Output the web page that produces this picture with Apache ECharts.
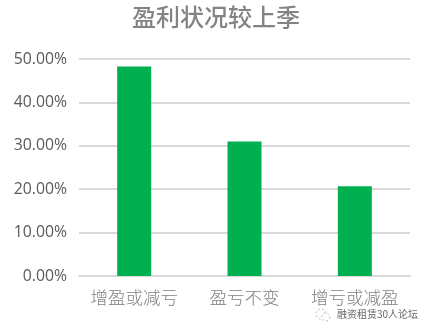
<!DOCTYPE html>
<html><head><meta charset="utf-8">
<style>html,body{margin:0;padding:0;background:#fff}#c{width:432px;height:333px}</style>
<script src="https://cdn.jsdelivr.net/npm/echarts@6/dist/echarts.min.js"></script>
</head><body><div id="c"></div>
<script>
const chartTitle = '盈利状况较上季';
const categories = ['增盈或减亏', '盈亏不变', '增亏或减盈'];
const values = [48.3, 31.0, 20.7];
const watermark = '融资租赁30人论坛';
const chart = echarts.init(document.getElementById('c'), null, {renderer:'canvas'});
chart.setOption({
  animation:false,
  backgroundColor:'#fff',
  title:{text:chartTitle,left:132,top:5,padding:0,
    textStyle:{fontFamily:'"Noto Sans CJK SC",sans-serif',fontSize:24,fontWeight:500,color:'#838383'}},
  grid:{left:79,right:22,top:59,bottom:57},
  xAxis:{type:'category',data:categories,
    axisLine:{lineStyle:{color:'#d9d9d9',width:2}},axisTick:{show:false},
    axisLabel:{interval:0,margin:13,fontFamily:'"Noto Sans CJK SC",sans-serif',fontSize:17.5,fontWeight:300,color:'#7f7f7f'}},
  yAxis:{type:'value',min:0,max:50,interval:10,
    axisLine:{show:false},axisTick:{show:false},
    splitLine:{lineStyle:{color:'#d9d9d9',width:2}},
    axisLabel:{margin:12,fontFamily:'"Open Sans",sans-serif',fontSize:15.8,color:'#595959',
      formatter:v=>v.toFixed(2)+'%'}},
  series:[{type:'bar',data:values,barWidth:34,itemStyle:{color:'#00b050'}}],
  graphic:[
    {type:'text',left:337,top:309,style:{text:watermark,fontFamily:'"Noto Sans CJK SC",sans-serif',fontSize:10,fill:'#666'}},
    {type:'circle',shape:{cx:321,cy:314,r:5},style:{fill:'none',stroke:'#bbb',lineWidth:1,lineDash:[2,2]}},
    {type:'circle',shape:{cx:326,cy:317,r:4},style:{fill:'#fff',stroke:'#bbb',lineWidth:1,lineDash:[2,2]}}
  ]
});
</script></body></html>
